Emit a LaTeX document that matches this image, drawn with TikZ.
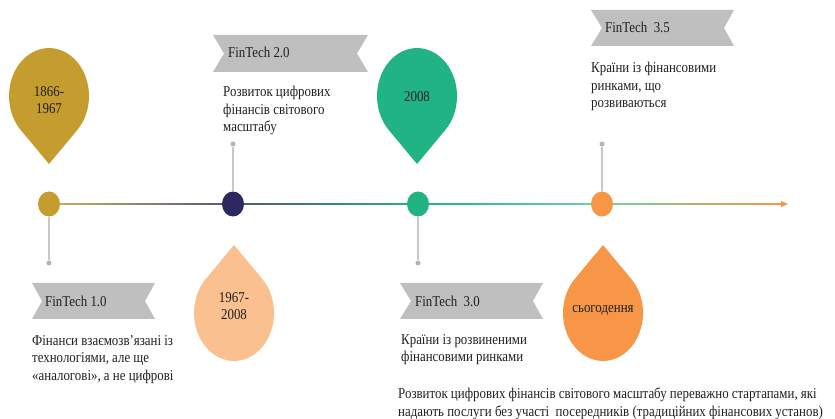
\documentclass[tikz,border=0pt]{standalone}
\usepackage{fontspec}
\setmainfont{Liberation Serif}[FakeStretch=0.86]
\usetikzlibrary{shapes.geometric,arrows.meta,calc,backgrounds}
\definecolor{gold}{HTML}{C59D2E}
\definecolor{navy}{HTML}{2D2860}
\definecolor{jade}{HTML}{21B383}
\definecolor{lightjade}{HTML}{6CD3A4}
\definecolor{peach}{HTML}{FAC090}
\definecolor{tangerine}{HTML}{F79646}
\definecolor{ribbongray}{HTML}{BFBFBF}
\definecolor{stemgray}{HTML}{C8C8C8}
\tikzset{
  tldot/.style={ellipse,minimum width=22pt,minimum height=25pt,inner sep=0pt},
  stemdot/.style={circle,fill=stemgray!90!black,minimum size=5pt,inner sep=0pt},
  stem/.style={draw=stemgray,line width=1.2pt},
  ribbon/.style={fill=ribbongray},
  txt/.style={font=\fontsize{15}{17.5}\selectfont,text=black!88,inner sep=0pt},
  desc/.style={txt,align=left,anchor=north west},
  droptxt/.style={txt,align=center},
  tag/.style={txt,anchor=base west}
}
\begin{document}
\begin{tikzpicture}[x=1pt,y=-1pt]
      \useasboundingbox (0,0) rectangle (835,419);
      \fill[gold] (49,164) -- ++(28.3,-34) arc[start angle=45,end angle=-225,x radius=40,y radius=48] -- cycle;
      \fill[peach] (234,245) -- ++(28.3,34) arc[start angle=-45,end angle=225,x radius=40,y radius=48] -- cycle;
      \fill[jade] (417,164) -- ++(28.3,-34) arc[start angle=45,end angle=-225,x radius=40,y radius=48] -- cycle;
      \fill[tangerine] (603,245) -- ++(28.3,34) arc[start angle=-45,end angle=225,x radius=40,y radius=48] -- cycle;
      \node[droptxt] (t1) at (49,100) {1866-\\1967};
      \node[droptxt] (t2) at (234,306) {1967-\\2008};
      \node[droptxt] (t3) at (417,97) {2008};
      \node[droptxt] (t4) at (603,310) {сьогодення};
      \fill[ribbon] (32,283) -- (155,283) -- (145,301) -- (155,319) -- (32,319) -- (42,301) -- cycle;
      \fill[ribbon] (213,35) -- (368,35) -- (357,53.5) -- (368,72) -- (213,72) -- (224,53.5) -- cycle;
      \fill[ribbon] (400,283) -- (543,283) -- (533,301) -- (543,319) -- (400,319) -- (411,301) -- cycle;
      \fill[ribbon] (591,10) -- (734,10) -- (724,28) -- (734,46) -- (591,46) -- (602,28) -- cycle;
      \node[tag] (f1) at (45,307) {FinTech 1.0};
      \node[tag] (f2) at (228,58) {FinTech 2.0};
      \node[tag] (f3) at (415,307) {FinTech~ 3.0};
      \node[tag] (f4) at (605,33) {FinTech~ 3.5};
      \node[desc] (c1) at (32,335) {Фінанси взаємозв’язані із\\технологіями, але ще\\«аналогові», а не цифрові};
      \node[desc] (c2) at (223,86) {Розвиток цифрових\\фінансів світового\\масштабу};
      \node[desc] (c3) at (401,334) {Країни із розвиненими\\фінансовими ринками};
      \node[desc] (c4) at (591,62) {Країни із фінансовими\\ринками, що\\розвиваються};
      \node[desc] (note) at (398,388) {Розвиток цифрових фінансів світового масштабу переважно стартапами, які\\надають послуги без участі\ \ посередників (традиційних фінансових установ)};
      \node[tldot,fill=gold] (d1) at (49,204) {};
      \node[tldot,fill=navy] (d2) at (233,204) {};
      \node[tldot,fill=jade] (d3) at (418,204) {};
      \node[tldot,fill=tangerine] (d4) at (602,204) {};
      \coordinate (end) at (788,204);
      \begin{scope}[on background layer]
        \shade[left color=gold!80,right color=navy!80] ($(d1.center)+(0,-0.8)$) rectangle ($(d2.center)+(0,0.8)$);
        \shade[left color=navy!80,right color=jade] ($(d2.center)+(0,-0.8)$) rectangle ($(d3.center)+(0,0.8)$);
        \shade[left color=jade,right color=lightjade] ($(d3.center)+(0,-0.8)$) rectangle ($(d4.center)+(0,0.8)$);
        \shade[left color=lightjade,right color=tangerine] ($(d4.center)+(0,-0.8)$) rectangle ($(end)+(-5,0.8)$);
      \end{scope}
      \draw[tangerine,line width=1.2pt,-{Triangle[length=7pt,width=6pt]}] ($(end)+(-6,0)$) -- (end);
      \node[stemdot] (s1) at (49,263) {};
      \node[stemdot] (s2) at (233,144) {};
      \node[stemdot] (s3) at (418,263) {};
      \node[stemdot] (s4) at (602,144) {};
      \begin{scope}[stem]
        \draw (d1) -- (s1);
        \draw (d2) -- (s2);
        \draw (d3) -- (s3);
        \draw (d4) -- (s4);
      \end{scope}
    \end{tikzpicture}
\end{document}
